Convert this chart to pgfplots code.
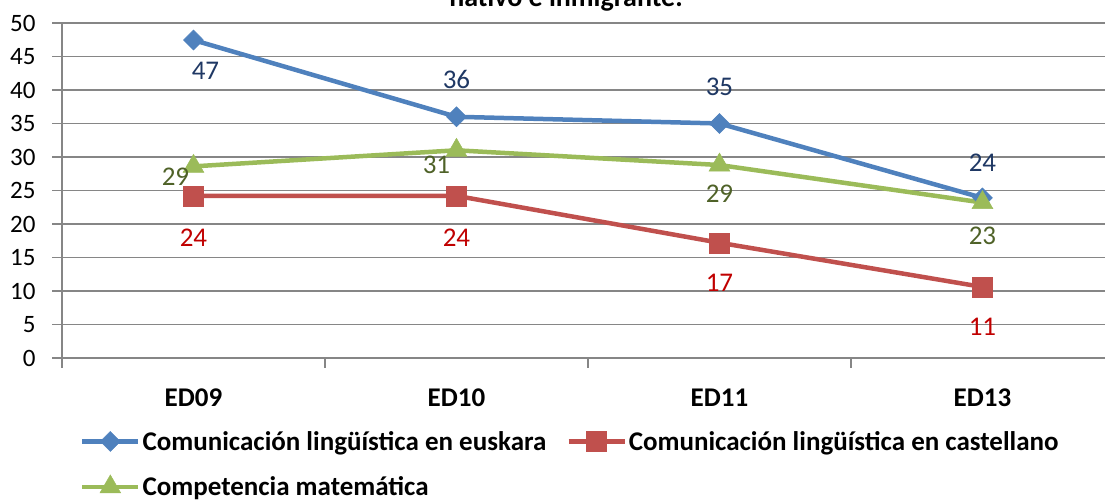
\documentclass[border=0pt]{standalone}
\usepackage{pgfplots}
\pgfplotsset{compat=1.18}
\usepackage{fontspec}
\setmainfont{Carlito}
\definecolor{cblue}{HTML}{4F81BD}
\definecolor{cred}{HTML}{C0504D}
\definecolor{cgreen}{HTML}{9BBB59}
\definecolor{lblue}{HTML}{1F3864}
\definecolor{lred}{HTML}{C00000}
\definecolor{lgreen}{HTML}{4F6228}
\definecolor{gridc}{HTML}{868686}

\pgfplotstableread{
x y lab dx dy
0 47.45 47 12 -31
1 36.0 36 0 37
2 35.0 35 0 37
3 23.9 24 0 35
}\euskara
\pgfplotstableread{
x y lab dx dy
0 24.2 24 0 -42
1 24.2 24 0 -42
2 17.2 17 0 -40
3 10.6 11 0 -40
}\castellano
\pgfplotstableread{
x y lab dx dy
0 28.6 29 -18 -10
1 31.0 31 -20 -15
2 28.8 29 0 -29
3 23.2 23 0 -33
}\matematica

\begin{document}
\begin{tikzpicture}
\useasboundingbox (0pt,0pt) rectangle (1105pt,502pt);
\node[anchor=base, font=\fontsize{28}{30}\selectfont\bfseries, inner sep=0pt] at (566pt,495pt) {nativo e inmigrante.};
\begin{axis}[
  at={(62pt,144pt)}, anchor=south west,
  scale only axis, width=1052pt, height=335pt,
  xmin=-0.5, xmax=3.5, ymin=0, ymax=50,
  ytick={0,5,...,50},
  xtick={0,1,2,3},
  xticklabels={ED09,ED10,ED11,ED13},
  minor xtick={-0.5,0.5,1.5,2.5,3.5},
  axis x line*=bottom, axis y line*=left,
  axis line style={gridc, line width=1.2pt, -},
  ymajorgrids, grid style={gridc, line width=1.4pt},
  major x tick style={draw=none},
  minor x tick style={gridc, line width=1.2pt},
  major y tick style={gridc, line width=1.2pt},
  tick align=outside, major tick length=10pt, minor tick length=10pt,
  /pgf/number format/assume math mode=true,
  yticklabel style={font=\fontsize{25}{28}\selectfont, xshift=-13pt},
  xticklabel style={font=\fontsize{27}{30}\selectfont\bfseries, yshift=-17pt},
  clip=false,
  point meta=explicit,
  nodes near coords,
  visualization depends on={\thisrow{dx} \as \dx},
  visualization depends on={\thisrow{dy} \as \dy},
  nodes near coords style={anchor=center, xshift=\dx pt, yshift=\dy pt, font=\fontsize{27}{30}\selectfont},
  legend columns=2,
  legend cell align=left,
  legend style={at={(0.017,-0.212)}, anchor=north west, draw=none, fill=none, inner sep=0pt,
    font=\fontsize{27}{30}\selectfont\bfseries, row sep=21pt,
    /tikz/every even column/.append style={column sep=18pt}},
  legend image code/.code={\draw[mark repeat=2,mark phase=2,#1] plot coordinates {(0pt,0pt) (28pt,0pt) (56pt,0pt)};},
]
\addplot[cblue, line width=4.5pt, mark=diamond*, mark size=10pt, mark options={xscale=1.33, line width=0.5pt}, nodes near coords style={text=lblue}]
  table[x=x, y=y, meta=lab] {\euskara};
\addlegendentry{Comunicación lingüística en euskara}
\addplot[cred, line width=4.5pt, mark=square*, mark size=10pt, mark options={line width=0.5pt}, nodes near coords style={text=lred}]
  table[x=x, y=y, meta=lab] {\castellano};
\addlegendentry{Comunicación lingüística en castellano}
\addplot[cgreen, line width=4.5pt, mark=triangle*, mark size=12pt, mark options={line width=0.5pt}, nodes near coords style={text=lgreen}]
  table[x=x, y=y, meta=lab] {\matematica};
\addlegendentry{Competencia matemática}
\end{axis}
\end{tikzpicture}
\end{document}
